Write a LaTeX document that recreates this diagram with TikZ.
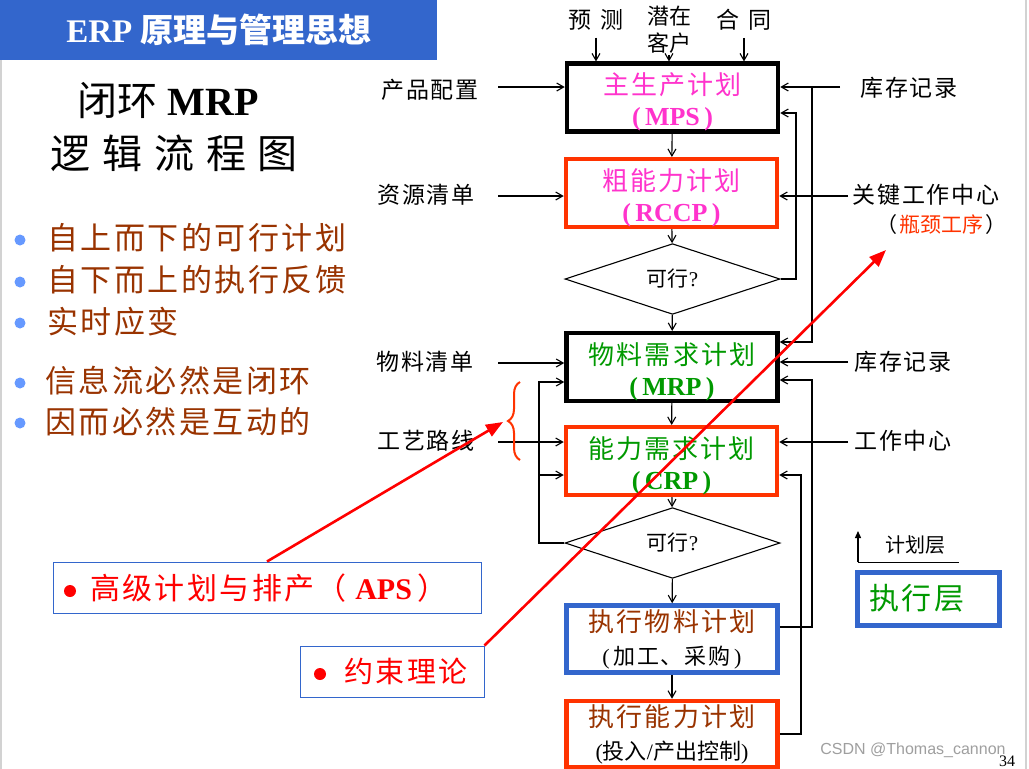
\documentclass[tikz,border=0pt]{standalone}
\usepackage{fontspec}
\setmainfont{Liberation Serif}
\setsansfont{Liberation Sans}
\newfontfamily\cjk{Noto Sans CJK SC}
\newfontfamily\cjks[LetterSpace=8]{Noto Sans CJK SC}
\usetikzlibrary{shapes.geometric,arrows.meta,decorations.pathreplacing}
\definecolor{titleblue}{HTML}{3366CC}
\definecolor{boxred}{HTML}{FF3300}
\definecolor{mag}{HTML}{FF33CC}
\definecolor{dgreen}{HTML}{009900}
\definecolor{brn}{HTML}{993300}
\definecolor{dotblue}{HTML}{6699FF}
\newcommand{\topstrut}{\rule{0pt}{31pt}}
\begin{document}
\begin{tikzpicture}[x=1pt,y=-1pt,
  conn/.style={line width=1.1pt},
  arr/.style={conn,-{Straight Barb[length=7pt,width=8pt]}},
  redarr/.style={draw=red,line width=2.6pt,-{Triangle[length=17pt,width=13pt]}},
  plan/.style={draw,line width=4.5pt,minimum width=211pt,minimum height=67pt,inner sep=0pt,align=center,font={\fontsize{26}{31}\selectfont}},
  dia/.style={draw,shape=diamond,line width=1.1pt,minimum width=215pt,minimum height=50pt,inner sep=0pt,font={\fontsize{21}{24}\selectfont}},
  lab/.style={inner sep=1pt,font={\fontsize{23}{26}\selectfont\cjks}},
  bul/.style={anchor=west,inner sep=0pt,text=brn,font={\fontsize{31}{34}\selectfont\cjks}},
  dot/.style={circle,fill=dotblue,inner sep=0pt,minimum size=11pt},
  rdot/.style={circle,fill=red,inner sep=0pt,minimum size=12pt},
  tagbox/.style={draw=titleblue,line width=1pt,inner sep=0pt}
]
\useasboundingbox (0,0) rectangle (1029,769);
\fill[white] (0,0) rectangle (1029,769);
% slide edges
\draw[gray!35,line width=1.5pt] (1,60) -- (1,769);
\draw[gray!35,line width=1.5pt] (1026,0) -- (1026,769);
% title bar
\fill[titleblue] (0,0) rectangle (437,60);
\node[text=white,font={\fontsize{33}{36}\selectfont}] (title) at (219,30) {\textbf{ERP} {\cjk\bfseries 原理与管理思想}};
% headline
\node[font={\fontsize{40}{44}\selectfont}] (h1) at (168,101) {{\cjk 闭环} \textbf{MRP}};
\node[font={\fontsize{40}{44}\selectfont\cjk}] (h2) at (174,153) {逻\hspace{12pt}辑\hspace{12pt}流\hspace{12pt}程\hspace{12pt}图};
% bullets
\node[dot] (b1) at (20,240) {};
\node[bul] (t1) at (47,238) {自上而下的可行计划};
\node[dot] (b2) at (20,282) {};
\node[bul] (t2) at (47,280) {自下而上的执行反馈};
\node[dot] (b3) at (20,323) {};
\node[bul] (t3) at (47,322) {实时应变};
\node[dot] (b4) at (20,383) {};
\node[bul] (t4) at (45,381) {信息流必然是闭环};
\node[dot] (b5) at (20,423) {};
\node[bul] (t5) at (45,422) {因而必然是互动的};
% main boxes
\node[plan,draw=black,text=mag] (mps) at (672.5,97.5) {\topstrut{\cjks 主生产计划}\\\textbf{(\,MPS\,)}};
\node[plan,draw=boxred,text=mag] (rccp) at (671.5,193) {\topstrut{\cjks 粗能力计划}\\\textbf{(\,RCCP\,)}};
\node[dia] (d1) at (672.5,279) {{\cjk 可行}?};
\node[plan,draw=black,text=dgreen] (mrp) at (672,367) {\topstrut{\cjks 物料需求计划}\\\textbf{(\,MRP\,)}};
\node[plan,draw=boxred,text=dgreen] (crp) at (671.5,461) {\topstrut{\cjks 能力需求计划}\\\textbf{(\,CRP\,)}};
\node[dia] (d2) at (672.5,543) {{\cjk 可行}?};
\node[plan,draw=titleblue,text=brn,font={\fontsize{26}{33}\selectfont}] (em) at (672,639) {{\cjks 执行物料计划}\\{\color{black}\fontsize{22}{26}\selectfont(\,{\cjks 加工、采购}\,)}};
\node[plan,draw=boxred,text=brn,minimum height=66pt,font={\fontsize{26}{33}\selectfont}] (ec) at (672,734) {{\cjks 执行能力计划}\\{\color{black}\fontsize{22}{26}\selectfont({\cjk 投入}/{\cjk 产出控制})}};
% main flow
\draw[arr] (mps) -- (rccp);
\draw[arr] (rccp) -- (d1);
\draw[arr] (d1) -- (mrp);
\draw[arr] (mrp) -- (crp);
\draw[arr] (crp) -- (d2);
\draw[arr] (d2) -- (em);
\draw[arr] (em) -- (ec);
% top inputs
\node[lab] (yc) at (596,20) {预\hspace{10pt}测};
\node[lab,align=center,font={\fontsize{22}{27}\selectfont\cjk}] (qk) at (669,30) {潜在\\客户};
\node[lab] (hc) at (744,20) {合\hspace{10pt}同};
\draw[arr] ([yshift=-6pt]yc.south) -- (yc.south |- mps.north);
\draw[arr] (qk.south) -- (qk.south |- mps.north);
\draw[arr] ([yshift=-6pt]hc.south) -- (hc.south |- mps.north);
% left inputs
\node[lab] (cp) at (430,90) {产品配置};
\node[lab] (zy) at (426,195) {资源清单};
\node[lab] (wl) at (425,362) {物料清单};
\node[lab] (gy) at (426,441) {工艺路线};
\coordinate (s1) at (498,87);
\coordinate (s2) at (498,196);
\coordinate (s3) at (498,363);
\coordinate (s4) at (498,442);
\draw[arr] (s1) -- (s1 -| mps.west);
\draw[arr] (s2) -- (s2 -| rccp.west);
\draw[arr] (s3) -- (s3 -| mrp.west);
\draw[arr] (s4) -- (s4 -| crp.west);
% left feedback loop
\coordinate (l1) at (539,382);
\coordinate (l2) at (539,475);
\draw[arr] (d2.west) -| (l1) -- (l1 -| mrp.west);
\draw[arr] (l2) -- (l2 -| crp.west);
% right labels
\node[lab] (kc1) at (909,88) {库存记录};
\node[lab] (gj) at (926,195) {关键工作中心};
\node[lab,font={\fontsize{21}{24}\selectfont\cjk}] (pj) at (941,225) {（\hspace{2pt}\textcolor{boxred}{瓶颈工序}\hspace{2pt}）};
\node[lab] (kc2) at (903,362) {库存记录};
\node[lab] (gz) at (903,441) {工作中心};
\coordinate (r1) at (840,87);
\coordinate (r2) at (848,196);
\coordinate (r3) at (848,362);
\coordinate (r4) at (848,442);
\draw[arr] (r1) -- (r1 -| mps.east);
\draw[arr] (r2) -- (r2 -| rccp.east);
\draw[arr] (r3) -- (r3 -| mrp.east);
\draw[arr] (r4) -- (r4 -| crp.east);
% right feedback lines
\coordinate (j1) at (812,87);
\coordinate (j1b) at (812,342);
\draw[arr] (j1) -- (j1b) -- (j1b -| mrp.east);
\coordinate (f1) at (796,113);
\draw[arr] (d1.east) -| (f1) -- (f1 -| mps.east);
\coordinate (f2) at (812,380);
\coordinate (f2b) at (812,627);
\draw[arr] (f2b -| em.east) -- (f2b) -- (f2) -- (f2 -| mrp.east);
\coordinate (f3) at (801,475);
\draw[arr] (ec.east) -| (f3) -- (f3 -| crp.east);
% layer legend
\coordinate (ly0) at (858,562);
\coordinate (ly1) at (858,531);
\coordinate (ly2) at (959,562);
\draw[line width=1.3pt,-{Triangle[length=7pt,width=6pt]}] (ly0) -- (ly1);
\draw[line width=1pt] (ly0) -- (ly2);
\node[lab,font={\fontsize{20}{24}\selectfont\cjk}] (jh) at (915,545) {计划层};
\node[draw=titleblue,line width=5pt,minimum width=142pt,minimum height=53pt,inner sep=0pt] (zx) at (928.5,599) {};
\node[inner sep=0pt,text=dgreen,font={\fontsize{30}{34}\selectfont\cjks}] (zxt) at (917,598) {执行层};
% brace
\draw[boxred,line width=2pt,decorate,decoration={brace,amplitude=12pt}] (520,460) -- (520,382);
% APS and TOC boxes
\node[tagbox,minimum width=428pt,minimum height=51pt] (aps) at (267,587.5) {};
\node[rdot] (apsb) at (70,591) {};
\node[inner sep=0pt,text=red,font={\fontsize{30}{33}\selectfont}] (apst) at (269,588) {{\cjks 高级计划与排产（}\hspace{6pt}\textbf{APS}\hspace{6pt}{\cjk ）}};
\node[tagbox,minimum width=184pt,minimum height=51pt] (toc) at (392,671.5) {};
\node[rdot] (tocb) at (320,674) {};
\node[inner sep=0pt,text=red,font={\fontsize{29}{33}\selectfont\cjks}] (toct) at (406,671) {约束理论};
% red arrows
\coordinate (bt) at (503,422);
\coordinate (bn) at (886,250);
\draw[redarr] (aps.north) -- (bt);
\draw[redarr] (toc.north east) -- (bn);
% watermark and page number
\node[text=gray!75,font={\fontsize{16}{18}\selectfont\sffamily}] (wm) at (913,750) {CSDN @Thomas\_cannon};
\node[font={\fontsize{16}{18}\selectfont}] (pg) at (1007,761) {34};
\end{tikzpicture}
\end{document}
